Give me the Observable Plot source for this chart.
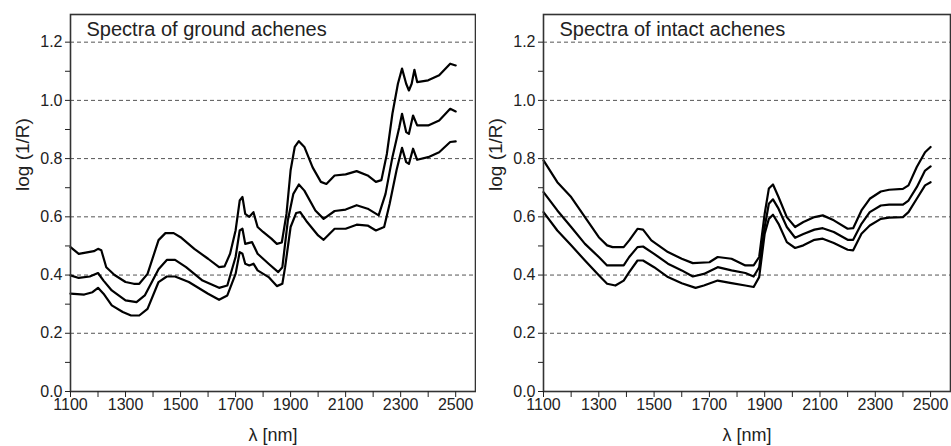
<!DOCTYPE html>
<html>
<head>
<meta charset="utf-8">
<script src="https://cdn.jsdelivr.net/npm/d3@7"></script>
<script src="https://cdn.jsdelivr.net/npm/@observablehq/plot@0.6"></script>
<style>
  html, body { margin: 0; padding: 0; background: #fff; }
  #wrap { display: flex; flex-direction: row; width: 951px; height: 446px; }
</style>
</head>
<body>
<div id="wrap"></div>
<script>
// ---- Data (wavelength nm, log(1/R)) ----
const panelTitles = ["Spectra of ground achenes", "Spectra of intact achenes"];
const xLabel = "λ [nm]";
const yLabel = "log (1/R)";
const xTicksAll = d3.range(1100, 2501, 100);
const yTicksAll = [0, 0.1, 0.2, 0.3, 0.4, 0.5, 0.6, 0.7, 0.8, 0.9, 1.0, 1.1, 1.2];
const gridLevels = [0.2, 0.4, 0.6, 0.8, 1.0, 1.2];

const groundHigh = [[1100,0.496],[1130,0.473],[1160,0.478],[1185,0.482],[1200,0.49],[1212,0.485],[1230,0.427],[1260,0.40],[1300,0.376],[1330,0.37],[1350,0.37],[1380,0.404],[1420,0.52],[1445,0.544],[1475,0.544],[1500,0.53],[1550,0.49],[1600,0.456],[1640,0.427],[1660,0.43],[1680,0.473],[1700,0.553],[1715,0.656],[1725,0.668],[1735,0.61],[1750,0.60],[1765,0.616],[1780,0.565],[1800,0.548],[1830,0.525],[1850,0.507],[1868,0.512],[1885,0.61],[1900,0.76],[1915,0.84],[1930,0.86],[1950,0.84],[1980,0.77],[2010,0.72],[2030,0.713],[2060,0.742],[2100,0.746],[2140,0.757],[2180,0.742],[2210,0.72],[2230,0.726],[2250,0.817],[2270,0.954],[2290,1.057],[2305,1.109],[2320,1.057],[2330,1.034],[2340,1.057],[2350,1.105],[2360,1.063],[2400,1.069],[2440,1.086],[2480,1.126],[2500,1.12]];

const groundMid = [[1100,0.399],[1130,0.39],[1170,0.395],[1200,0.407],[1220,0.381],[1250,0.347],[1300,0.313],[1340,0.307],[1370,0.33],[1420,0.42],[1450,0.452],[1480,0.452],[1520,0.427],[1580,0.381],[1640,0.356],[1670,0.364],[1700,0.462],[1715,0.553],[1725,0.559],[1735,0.507],[1760,0.513],[1780,0.473],[1820,0.439],[1855,0.41],[1870,0.427],[1890,0.588],[1910,0.679],[1930,0.711],[1950,0.69],[1990,0.622],[2020,0.593],[2060,0.62],[2100,0.625],[2140,0.64],[2180,0.628],[2220,0.605],[2245,0.679],[2270,0.805],[2295,0.908],[2305,0.954],[2320,0.891],[2330,0.885],[2345,0.948],[2360,0.914],[2400,0.914],[2440,0.931],[2480,0.971],[2500,0.962]];

const groundLow = [[1100,0.336],[1150,0.333],[1180,0.341],[1200,0.356],[1220,0.336],[1250,0.296],[1290,0.273],[1320,0.261],[1350,0.261],[1380,0.284],[1420,0.376],[1450,0.395],[1480,0.395],[1530,0.376],[1600,0.336],[1640,0.315],[1670,0.33],[1700,0.404],[1715,0.479],[1725,0.473],[1735,0.439],[1750,0.433],[1765,0.439],[1780,0.416],[1820,0.393],[1850,0.362],[1870,0.37],[1880,0.427],[1900,0.565],[1920,0.613],[1935,0.616],[1960,0.582],[2000,0.536],[2020,0.521],[2060,0.559],[2100,0.559],[2140,0.573],[2180,0.57],[2210,0.553],[2240,0.565],[2260,0.645],[2285,0.76],[2305,0.837],[2320,0.788],[2330,0.782],[2345,0.834],[2360,0.796],[2400,0.805],[2440,0.822],[2480,0.857],[2500,0.859]];

const intactHigh = [[1100,0.794],[1150,0.719],[1200,0.668],[1250,0.599],[1300,0.53],[1330,0.502],[1350,0.496],[1390,0.496],[1410,0.519],[1440,0.559],[1460,0.556],[1490,0.519],[1550,0.479],[1600,0.456],[1640,0.441],[1700,0.444],[1730,0.462],[1780,0.456],[1830,0.433],[1860,0.433],[1880,0.462],[1900,0.611],[1915,0.697],[1930,0.711],[1950,0.668],[1980,0.599],[2010,0.565],[2040,0.582],[2080,0.599],[2110,0.605],[2150,0.588],[2200,0.559],[2220,0.561],[2250,0.622],[2280,0.662],[2320,0.687],[2350,0.693],[2400,0.696],[2420,0.708],[2450,0.771],[2480,0.822],[2500,0.84]];

const intactMid = [[1100,0.685],[1150,0.622],[1200,0.565],[1250,0.507],[1300,0.462],[1330,0.433],[1350,0.433],[1390,0.433],[1410,0.462],[1440,0.496],[1460,0.498],[1500,0.473],[1550,0.439],[1600,0.416],[1640,0.395],[1680,0.404],[1730,0.427],[1780,0.416],[1830,0.407],[1860,0.395],[1880,0.427],[1900,0.565],[1915,0.645],[1930,0.66],[1950,0.628],[1980,0.565],[2010,0.528],[2040,0.541],[2080,0.556],[2110,0.561],[2150,0.548],[2200,0.521],[2220,0.521],[2250,0.576],[2280,0.616],[2320,0.639],[2350,0.642],[2400,0.642],[2420,0.656],[2450,0.702],[2480,0.759],[2500,0.773]];

const intactLow = [[1100,0.616],[1150,0.553],[1200,0.502],[1250,0.45],[1300,0.399],[1330,0.37],[1360,0.364],[1390,0.381],[1410,0.41],[1440,0.45],[1460,0.45],[1500,0.427],[1550,0.393],[1600,0.372],[1650,0.356],[1680,0.364],[1730,0.381],[1780,0.372],[1830,0.364],[1860,0.359],[1880,0.393],[1900,0.542],[1915,0.593],[1930,0.607],[1950,0.576],[1980,0.513],[2010,0.493],[2040,0.502],[2080,0.521],[2110,0.525],[2150,0.51],[2200,0.487],[2220,0.485],[2250,0.542],[2280,0.57],[2320,0.593],[2350,0.597],[2400,0.599],[2420,0.616],[2450,0.662],[2480,0.708],[2500,0.719]];

const panels = [
  {title: panelTitles[0], series: [groundHigh, groundMid, groundLow], width: 476, marginLeft: 70},
  {title: panelTitles[1], series: [intactHigh, intactMid, intactLow], width: 475, marginLeft: 67}
];

const FONT = "'Liberation Sans', Arial, Helvetica, sans-serif";

function makePanel(p) {
  const lines = p.series.map(s => Plot.line(s, {x: d => d[0], y: d => d[1], stroke: "#000", strokeWidth: 2.2, curve: "linear"}));
  return Plot.plot({
    width: p.width,
    height: 446,
    marginTop: 14,
    marginBottom: 55,
    marginLeft: p.marginLeft,
    marginRight: 1,
    style: {fontFamily: FONT, fontSize: "16px", color: "#222", background: "#fff", overflow: "visible"},
    x: {domain: [1100, 2572]},
    y: {domain: [0, 1.295]},
    marks: [
      Plot.ruleY(gridLevels, {stroke: "#555", strokeWidth: 1, strokeDasharray: "4,3"}),
      ...lines,
      Plot.frame({stroke: "#333", strokeWidth: 1.6}),
      Plot.axisX({ticks: xTicksAll, tickSize: 6, tickPadding: 1, tickFormat: d => ((d - 1100) % 200 === 0 ? String(d) : ""), label: null, fontSize: 16}),
      Plot.axisY({ticks: yTicksAll, tickSize: 5, tickPadding: 3, tickFormat: d => (Math.round(d * 10) % 2 === 0 ? d.toFixed(1) : ""), label: null, fontSize: 16}),
      Plot.text([p.title], {frameAnchor: "top-left", text: d => d, dx: 16, dy: 7, lineAnchor: "top", textAnchor: "start", fontSize: 20, fill: "#222"}),
      Plot.text([xLabel], {frameAnchor: "bottom", text: d => d, dy: 44, lineAnchor: "middle", fontSize: 18, fill: "#222"}),
      Plot.text([yLabel], {frameAnchor: "left", text: d => d, dx: -48, dy: -12, rotate: -90, lineAnchor: "middle", fontSize: 19, fill: "#222"})
    ]
  });
}

const wrap = document.getElementById("wrap");
panels.forEach(p => wrap.appendChild(makePanel(p)));
</script>
</body>
</html>
